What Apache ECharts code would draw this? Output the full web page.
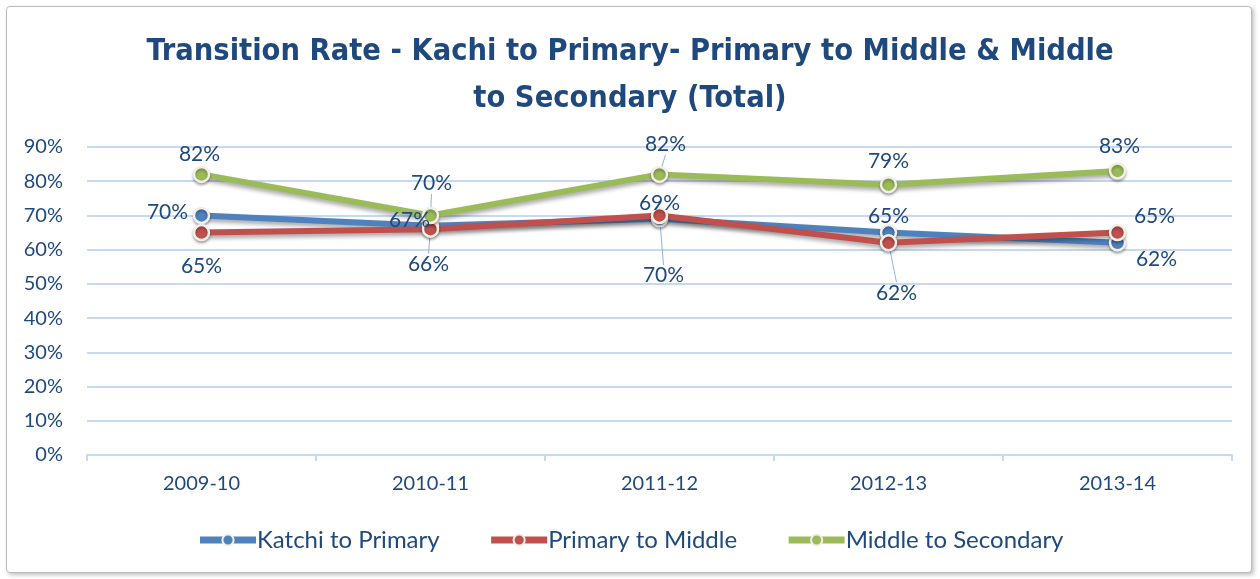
<!DOCTYPE html>
<html>
<head>
<meta charset="utf-8">
<script src="https://cdn.jsdelivr.net/npm/echarts@6/dist/echarts.min.js"></script>
<style>
  html, body { margin: 0; padding: 0; background: #ffffff; }
  .frame {
    position: absolute; left: 6px; top: 6px; width: 1244px; height: 565px;
    border: 1px solid #b8bcc2; border-radius: 4px;
    box-shadow: 2px 2px 4px rgba(0,0,0,0.25);
    background: #ffffff;
  }
  #chart { position: absolute; left: 0; top: 0; width: 1260px; height: 579px; }
</style>
</head>
<body>
<div class="frame"></div>
<div id="chart"></div>
<script>
const years = ['2009-10', '2010-11', '2011-12', '2012-13', '2013-14']
const katchiToPrimary = [70, 67, 69, 65, 62]
const primaryToMiddle = [65, 66, 70, 62, 65]
const middleToSecondary = [82, 70, 82, 79, 83]

const textColor = '#1f497d'
const font = 'Lato, "Open Sans", sans-serif'

// label shifts (px) from each point
const katchiShift = [[-34, -3], [-21, -5], [0, -16], [0, -16], [39, 16]]
const primaryShift = [[0, 34], [-2, 35], [4, 60], [8, 50], [37, -16]]
const middleShift = [[-2, -20], [1, -32], [6, -30], [0, -23], [2, -25]]
const katchiLeader = [false, true, false, false, false]
const primaryLeader = [false, true, true, true, false]
const middleLeader = [false, true, true, false, false]

const makeSeries = (name, values, color, shift, leader) => ({
  name: name,
  type: 'line',
  data: values.map((v, i) => ({ value: v, labelLine: { show: leader[i] } })),
  symbol: 'circle',
  symbolSize: 15,
  itemStyle: { color: color, borderColor: '#f2efe6', borderWidth: 2.5,
    shadowColor: 'rgba(0,0,0,0.3)', shadowBlur: 3, shadowOffsetY: 2 },
  lineStyle: { color: color, width: 6,
    shadowColor: 'rgba(0,0,0,0.35)', shadowBlur: 4, shadowOffsetY: 3 },
  label: {
    show: true,
    position: 'inside',
    formatter: '{c}%',
    color: textColor,
    fontFamily: font,
    fontSize: 21
  },
  labelLine: { show: false, lineStyle: { color: '#8db3e2', width: 1 } },
  labelLayout: (p) => ({ dx: shift[p.dataIndex][0], dy: shift[p.dataIndex][1] }),
  emphasis: { disabled: true }
})

const option = {
  animation: false,
  title: {
    text: 'Transition Rate - Kachi to Primary- Primary to Middle & Middle\nto Secondary (Total)',
    left: 'center',
    top: 24,
    textStyle: {
      color: textColor,
      fontFamily: '"Liberation Sans Narrow", "DejaVu Sans Condensed", sans-serif',
      fontWeight: 'bold',
      fontSize: 30.5,
      lineHeight: 47
    }
  },
  legend: {
    bottom: 22,
    left: 'center',
    itemWidth: 56,
    itemHeight: 14,
    itemGap: 48,
    lineStyle: { width: 7 },
    itemStyle: { borderColor: '#f2efe6', borderWidth: 2 },
    textStyle: { color: textColor, fontFamily: font, fontSize: 24, padding: [0, 0, 0, -4] },
    data: ['Katchi to Primary', 'Primary to Middle', 'Middle to Secondary']
  },
  grid: { left: 87, right: 28, top: 147, bottom: 124 },
  xAxis: {
    type: 'category',
    data: years,
    boundaryGap: true,
    axisLine: { lineStyle: { color: '#c6d9f1', width: 2 } },
    axisTick: { show: true, length: 6, lineStyle: { color: '#c6d9f1', width: 2 } },
    axisLabel: { color: textColor, fontFamily: font, fontSize: 20, margin: 19 }
  },
  yAxis: {
    type: 'value',
    min: 0,
    max: 90,
    interval: 10,
    axisLine: { show: false },
    axisTick: { show: false },
    axisLabel: { formatter: '{value}%', color: textColor, fontFamily: font, fontSize: 20, margin: 24 },
    splitLine: { lineStyle: { color: '#c6d9f1', width: 2 } }
  },
  series: [
    makeSeries('Katchi to Primary', katchiToPrimary, '#4f81bd', katchiShift, katchiLeader),
    makeSeries('Primary to Middle', primaryToMiddle, '#c0504d', primaryShift, primaryLeader),
    makeSeries('Middle to Secondary', middleToSecondary, '#9bbb59', middleShift, middleLeader)
  ]
}

const chart = echarts.init(document.getElementById('chart'))
chart.setOption(option)
</script>
</body>
</html>
